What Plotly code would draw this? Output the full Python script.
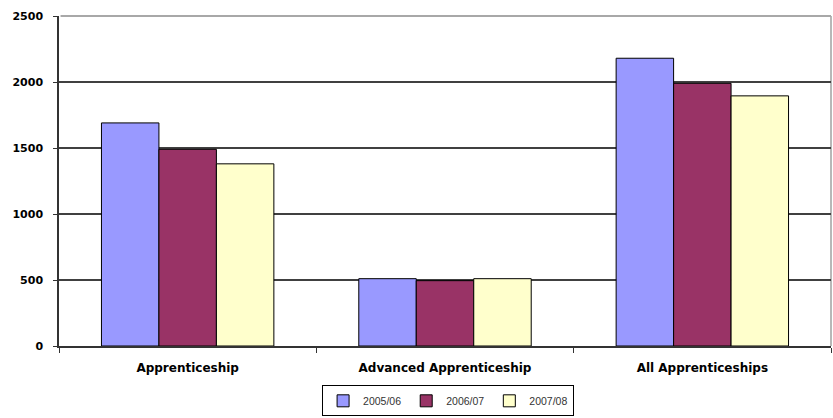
import plotly.graph_objects as go

categories = ["Apprenticeship", "Advanced Apprenticeship", "All Apprenticeships"]
series_names = ["2005/06", "2006/07", "2007/08"]
values_2005 = [1690, 510, 2180]
values_2006 = [1490, 495, 1990]
values_2007 = [1380, 510, 1895]
colors = ["#9999FF", "#993366", "#FFFFCC"]
y_ticks = [0, 500, 1000, 1500, 2000, 2500]

fig = go.Figure()
for name, vals, col in zip(series_names, [values_2005, values_2006, values_2007], colors):
    fig.add_trace(go.Bar(
        x=categories, y=vals, name=name,
        marker=dict(color=col, line=dict(color="#000000", width=1)),
    ))

fig.update_layout(
    width=833, height=418,
    margin=dict(l=59, r=2, t=16, b=72, autoexpand=False),
    paper_bgcolor="white", plot_bgcolor="white",
    barmode="group", bargap=0.33, bargroupgap=0,
    font=dict(family="DejaVu Sans, Liberation Sans, Arial, sans-serif", size=11, color="#000000"),
    showlegend=True,
    legend=dict(
        orientation="h", x=0.504, xanchor="center",
        yref="container", y=0.004, yanchor="bottom",
        bordercolor="#000000", borderwidth=1,
        font=dict(size=10.5, color="#333333", family="Liberation Sans, Arial"),
        itemwidth=30, tracegroupgap=0,
    ),
    xaxis=dict(
        automargin=False,
        showline=True, linecolor="#333333", linewidth=1.5,
        ticks="outside", tickson="boundaries", ticklen=5, tickcolor="#333333",
        tickfont=dict(size=12, color="#000000", family="DejaVu Sans, Arial", weight="bold"),
        ticklabelstandoff=10,
        showgrid=False,
    ),
    yaxis=dict(
        automargin=False,
        range=[0, 2500], tickvals=y_ticks,
        showline=True, linecolor="#333333", linewidth=1.5,
        ticks="outside", ticklen=4, tickcolor="#333333",
        showgrid=True, gridcolor="#404040", gridwidth=1.5,
        tickfont=dict(size=11, color="#000000", family="DejaVu Sans, Arial", weight="bold"),
        ticklabelstandoff=8,
        zeroline=False,
    ),
    shapes=[
        dict(type="line", xref="paper", yref="paper", x0=0.002, y0=1, x1=1, y1=1,
             line=dict(color="#A8A8A8", width=2), layer="above"),
        dict(type="line", xref="paper", yref="paper", x0=1, y0=0, x1=1, y1=1,
             line=dict(color="#A0A0A0", width=1.5), layer="below"),
    ],
)

fig.write_html("out.html", config={"displayModeBar": False},
               post_script="document.body.style.margin='0';")
